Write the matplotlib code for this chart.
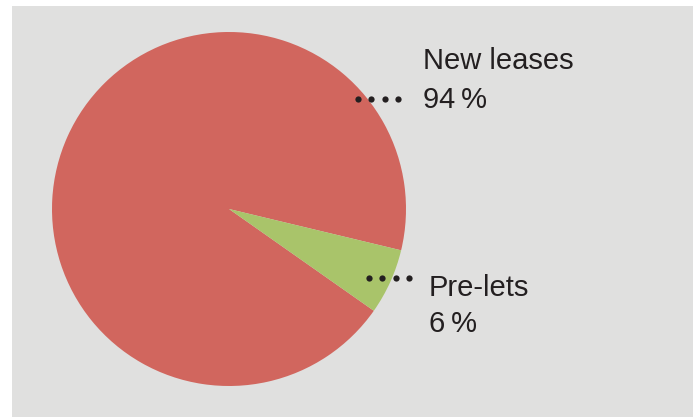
import matplotlib
matplotlib.use("Agg")
import matplotlib.pyplot as plt
from matplotlib.patches import Rectangle

# data
labels = ["New leases", "Pre-lets"]
shares = [94, 6]
colors = ["#d1665e", "#a9c46a"]

W, H = 695, 417
fig = plt.figure(figsize=(W / 100, H / 100), dpi=100)
fig.patch.set_facecolor("white")

# background panel in pixel coordinates
bg = fig.add_axes([0, 0, 1, 1])
bg.set_xlim(0, W)
bg.set_ylim(H, 0)
bg.axis("off")
bg.add_patch(Rectangle((12, 6), 681, 411, facecolor="#e0e0df", edgecolor="none"))

# pie
cx, cy, r = 229, 209, 177
pax = fig.add_axes([(cx - r) / W, (H - cy - r) / H, 2 * r / W, 2 * r / H])
pax.pie(shares, colors=colors, startangle=-13.5, counterclock=True,
        wedgeprops=dict(linewidth=0))
pax.set_xlim(-1, 1)
pax.set_ylim(-1, 1)
pax.set_aspect("auto")
pax.axis("off")

# overlay for labels and dotted leaders
top = fig.add_axes([0, 0, 1, 1])
top.set_xlim(0, W)
top.set_ylim(H, 0)
top.axis("off")
top.patch.set_alpha(0)

txt = dict(fontsize=21, color="#231f20", family=["Liberation Sans", "DejaVu Sans"],
           va="baseline", ha="left")
label_pos = [(423, 69, 108, 358, 99), (429, 296, 332, 369, 278)]
for lab, val, (tx, y1, y2, dx, dy) in zip(labels, shares, label_pos):
    top.text(tx, y1, lab, **txt)
    top.text(tx, y2, f"{val}\u2009%", **txt)
    top.plot([dx + 13.3 * i for i in range(4)], [dy] * 4, "o",
             color="#231f20", markersize=4.5, markeredgewidth=0)

fig.savefig("out.png", dpi=100, facecolor="white")
